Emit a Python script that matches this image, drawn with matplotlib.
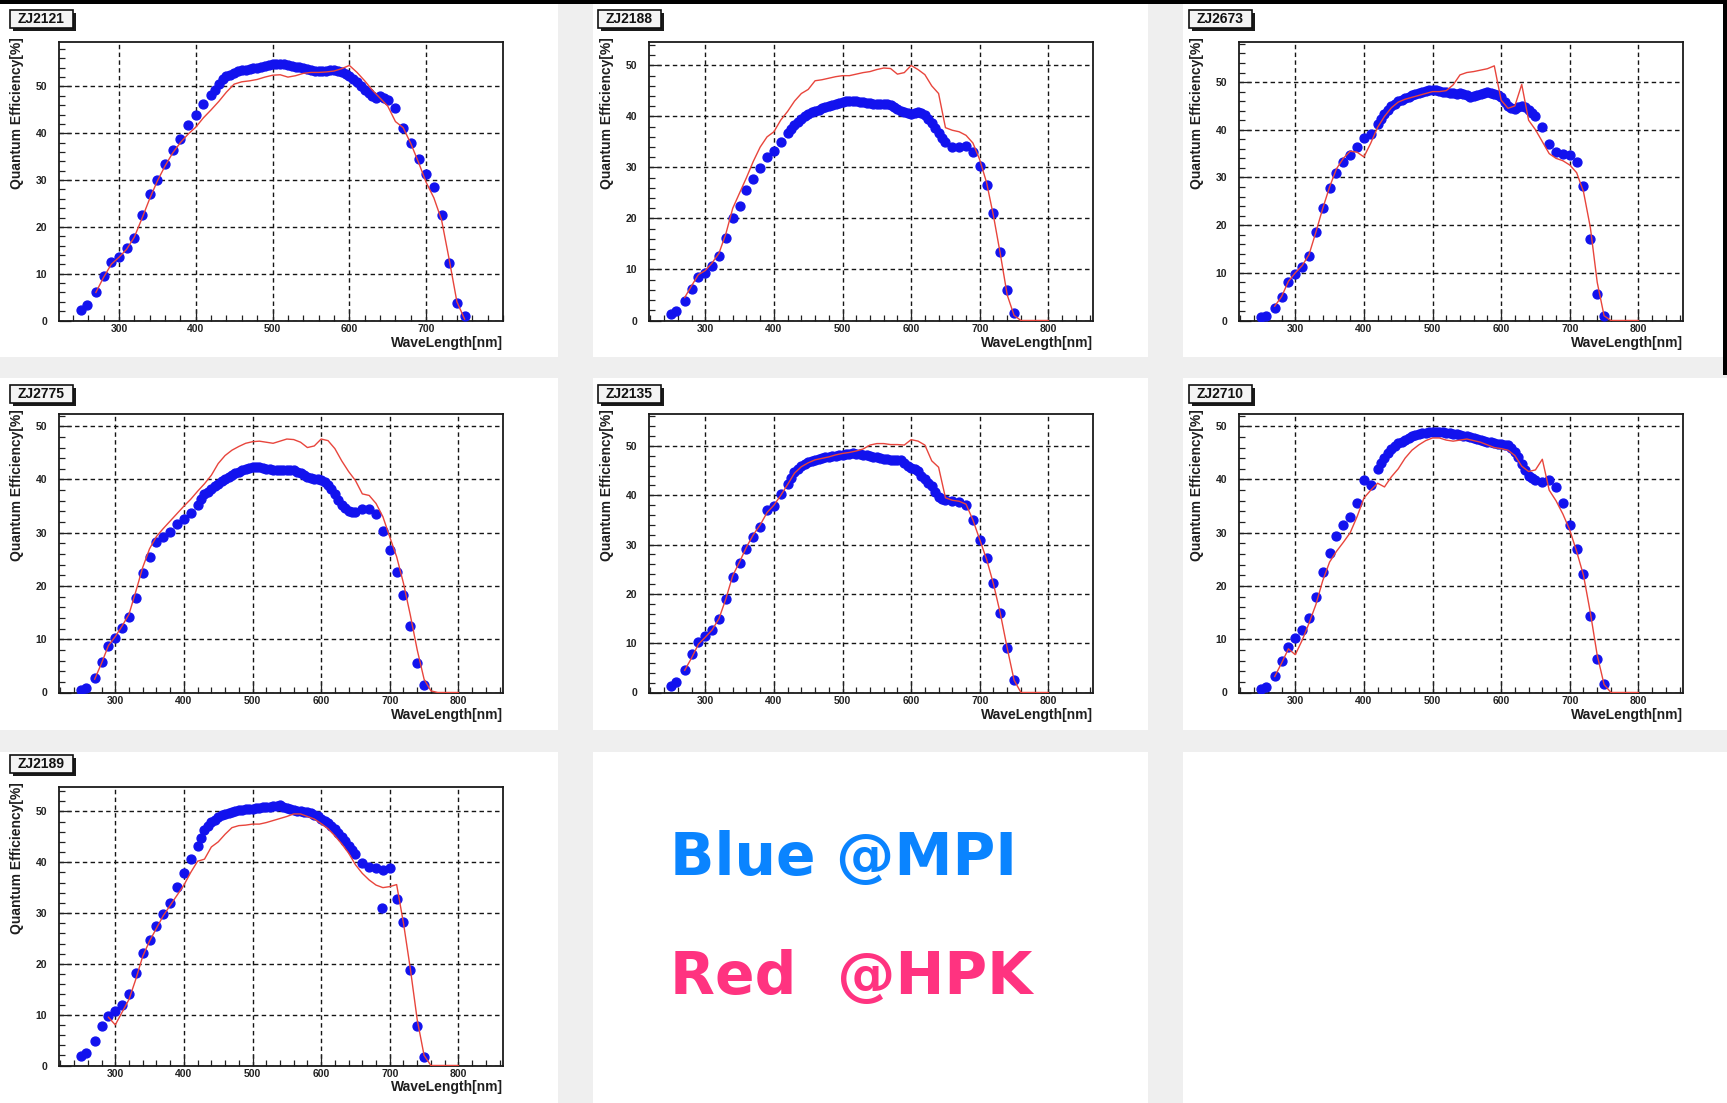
import numpy as np
import matplotlib
matplotlib.use("Agg")
import matplotlib.pyplot as plt
from matplotlib.patches import Rectangle
from matplotlib.ticker import MultipleLocator, FixedLocator

# ---------------------------------------------------------------- data
# MPI scan wavelengths [nm]: coarse in the UV / red, 5 nm across the plateau
WL_MPI = [250, 258, 270, 280, 290, 300, 310, 320, 330, 340, 350, 360, 370, 380, 390, 400, 410, 420,
          425, 430, 435, 440, 445, 450, 455, 460, 465, 470,
          475, 480, 485, 490, 495, 500, 505, 510, 515, 520,
          525, 530, 535, 540, 545, 550, 555, 560, 565, 570,
          575, 580, 585, 590, 595, 600, 605, 610, 615, 620,
          625, 630, 635, 640, 645, 650,
          660, 670, 680, 690, 700, 710, 720, 730, 740, 750]

# HPK data sheet wavelengths [nm]
WL_HPK = [270, 280, 290, 300, 310, 320, 330, 340, 350, 360,
          370, 380, 390, 400, 410, 420, 430, 440, 450, 460,
          470, 480, 490, 500, 510, 520, 530, 540, 550, 560,
          570, 580, 590, 600, 610, 620, 630, 640, 650, 660,
          670, 680, 690, 700, 710, 720, 730, 740, 750, 760,
          770, 780, 790, 800]

nan = np.nan

MPI_ZJ2121 = [2.3, 3.3, 6.0, 9.6, 12.5, 13.6, 15.4, 17.7, 22.6, 27.0, 30.0, 33.5, 36.5, 38.7, 41.8, 43.8, 46.2, 48.2,
              49.3, 50.5, 51.5, 52.2, 52.5, 52.8, 53.2, 53.5, 53.6, 53.8,
              53.9, 54.0, 54.1, 54.3, 54.6, 54.8, 54.9, 54.8, 54.7, 54.6,
              54.4, 54.2, 54.1, 54.0, 53.7, 53.5, 53.3, 53.2, 53.2, 53.3,
              53.5, 53.6, 53.3, 53.0, 52.6, 52.2, 51.5, 50.9, 50.2, 49.3,
              48.5, 47.9, 47.6, 47.9, 47.6, 47.2,
              45.4, 41.2, 38.0, 34.5, 31.3, 28.5, 22.5, 12.2, 3.7, 0.9]
HPK_ZJ2121 = [6.0, 9.2, 12.0, 13.5, 15.2, 17.8, 21.8, 26.0, 29.8, 33.0,
              35.8, 38.0, 39.8, 41.3, 43.3, 45.0, 46.8, 48.8, 50.5, 51.0,
              51.2, 51.5, 52.0, 52.4, 52.5, 52.0, 52.3, 52.8, 53.0, 53.0,
              53.1, 53.3, 53.8, 54.5, 53.0, 51.2, 49.2, 47.5, 45.8, 42.5,
              41.2, 37.8, 33.8, 29.5, 26.2, 21.5, 13.0, 4.0, 0.3, nan,
              nan, nan, nan, nan]

MPI_ZJ2188 = [1.3, 1.8, 3.8, 6.2, 8.6, 9.3, 10.6, 12.7, 16.2, 20.0, 22.5, 25.5, 27.8, 29.8, 32.0, 33.3, 35.0, 36.8,
              37.6, 38.4, 39.0, 39.6, 40.0, 40.4, 40.8, 41.1, 41.3, 41.6,
              41.8, 42.0, 42.2, 42.5, 42.7, 42.9, 43.0, 43.1, 43.0, 43.0,
              42.9, 42.8, 42.7, 42.6, 42.5, 42.5, 42.5, 42.5, 42.4, 42.3,
              41.9, 41.5, 41.0, 40.8, 40.6, 40.5, 40.7, 40.8, 40.6, 40.3,
              39.5, 38.8, 37.8, 36.8, 35.8, 35.0,
              34.0, 34.0, 34.2, 33.0, 30.2, 26.5, 21.0, 13.5, 6.0, 1.5]
HPK_ZJ2188 = [4.5, 6.8, 9.0, 9.8, 11.3, 13.2, 17.0, 22.0, 25.0, 28.0,
              31.2, 34.0, 36.0, 37.0, 39.3, 41.0, 43.0, 44.5, 45.3, 47.0,
              47.2, 47.5, 47.8, 48.0, 48.0, 48.3, 48.6, 48.8, 49.2, 49.5,
              49.4, 48.3, 48.6, 50.0, 49.2, 48.2, 46.0, 44.5, 37.8, 37.3,
              37.0, 36.3, 34.8, 31.5, 27.0, 20.5, 13.0, 5.0, 1.0, 0.0,
              0.0, 0.0, 0.0, 0.0]

MPI_ZJ2673 = [0.8, 1.0, 2.7, 5.0, 8.0, 9.8, 11.3, 13.5, 18.5, 23.5, 27.8, 31.0, 33.3, 34.6, 36.4, 38.3, 39.2, 41.2,
              42.3, 43.3, 44.1, 44.9, 45.5, 46.0, 46.3, 46.6, 46.9, 47.2,
              47.5, 47.8, 48.0, 48.2, 48.3, 48.4, 48.3, 48.2, 48.0, 47.9,
              47.8, 47.7, 47.6, 47.8, 47.5, 47.2, 46.9, 47.0, 47.3, 47.6,
              47.8, 47.9, 47.7, 47.5, 47.3, 46.9, 45.8, 45.0, 44.6, 44.4,
              44.7, 44.9, 44.7, 44.2, 43.6, 42.8,
              40.6, 37.1, 35.3, 35.0, 34.6, 33.2, 28.3, 17.0, 5.5, 1.0]
HPK_ZJ2673 = [3.0, 5.0, 8.2, 10.0, 11.5, 13.8, 18.5, 23.5, 28.0, 31.8,
              34.0, 35.5, 35.3, 34.3, 37.2, 40.5, 42.8, 44.6, 45.8, 46.4,
              46.8, 47.2, 47.6, 48.0, 48.0, 48.2, 49.4, 51.5, 52.0, 52.2,
              52.5, 52.8, 53.4, 46.2, 44.5, 45.0, 49.5, 42.0, 40.0, 37.5,
              35.0, 34.0, 33.5, 32.6, 31.0, 27.0, 19.5, 8.0, 1.0, 0.0,
              0.0, 0.0, 0.0, 0.0]

MPI_ZJ2775 = [0.5, 0.8, 2.7, 5.8, 8.7, 10.2, 12.1, 14.1, 17.8, 22.4, 25.4, 28.3, 29.2, 30.1, 31.6, 32.6, 33.7, 35.3,
              36.4, 37.2, 37.7, 38.3, 38.8, 39.2, 39.7, 40.1, 40.5, 40.9,
              41.2, 41.5, 41.8, 42.0, 42.2, 42.4, 42.4, 42.3, 42.1, 42.0,
              41.9, 41.8, 41.8, 41.8, 41.8, 41.8, 41.8, 41.7, 41.5, 41.2,
              40.8, 40.5, 40.3, 40.1, 40.0, 39.9, 39.6, 39.0, 38.2, 37.2,
              36.2, 35.2, 34.6, 34.1, 33.9, 33.9,
              34.4, 34.4, 33.6, 30.3, 26.8, 22.7, 18.3, 12.4, 5.5, 1.4]
HPK_ZJ2775 = [2.5, 5.5, 8.8, 10.5, 12.5, 14.7, 19.0, 23.5, 27.0, 29.3,
              30.8, 32.2, 33.6, 35.0, 36.3, 37.8, 39.2, 40.8, 43.0, 44.5,
              45.5, 46.2, 46.8, 47.1, 47.2, 47.0, 46.8, 47.2, 47.6, 47.5,
              47.0, 46.0, 46.3, 47.6, 47.3, 45.8, 43.5, 41.5, 39.8, 37.3,
              37.0, 35.5, 33.0, 29.2, 25.5, 20.5, 14.5, 8.0, 2.5, 0.3,
              0.0, 0.0, 0.0, 0.0]

MPI_ZJ2135 = [1.4, 2.2, 4.6, 7.8, 10.3, 11.4, 12.7, 15.0, 19.0, 23.4, 26.2, 29.2, 31.6, 33.6, 37.0, 37.8, 40.2, 42.4,
              43.6, 44.8, 45.4, 46.0, 46.4, 46.8, 47.0, 47.2, 47.4, 47.6,
              47.7, 47.8, 47.9, 48.0, 48.1, 48.2, 48.3, 48.4, 48.5, 48.4,
              48.3, 48.2, 48.1, 47.9, 47.8, 47.7, 47.5, 47.4, 47.3, 47.2,
              47.2, 47.2, 47.1, 46.5, 46.0, 45.6, 45.3, 45.0, 44.0, 43.3,
              42.6, 41.8, 40.6, 39.6, 39.2, 39.1,
              38.8, 38.7, 38.1, 35.0, 31.0, 27.2, 22.2, 16.1, 9.0, 2.6]
HPK_ZJ2135 = [4.5, 7.0, 9.8, 11.2, 12.7, 15.0, 19.0, 23.7, 26.5, 29.5,
              32.0, 34.0, 36.5, 38.0, 40.0, 42.2, 44.5, 45.8, 46.6, 47.2,
              47.5, 47.8, 48.2, 48.5, 48.7, 49.0, 49.4, 50.2, 50.5, 50.5,
              50.3, 50.3, 50.2, 51.3, 51.0, 50.2, 47.0, 45.7, 39.5, 39.0,
              38.8, 38.2, 35.0, 31.0, 27.0, 22.0, 16.0, 9.0, 2.5, 0.0,
              0.0, 0.0, 0.0, 0.0]

MPI_ZJ2710 = [0.6, 1.1, 3.1, 5.9, 8.6, 10.2, 11.8, 13.9, 18.0, 22.7, 26.2, 29.4, 31.4, 33.0, 35.5, 39.9, 38.9, 42.0,
              43.1, 44.1, 45.0, 45.8, 46.3, 46.8, 47.1, 47.5, 47.8, 48.1,
              48.3, 48.5, 48.7, 48.8, 48.9, 49.0, 49.0, 48.9, 48.9, 48.8,
              48.7, 48.6, 48.5, 48.4, 48.2, 48.1, 47.9, 47.8, 47.6, 47.4,
              47.3, 47.1, 47.0, 46.9, 46.7, 46.6, 46.5, 46.4, 45.9, 45.2,
              44.2, 43.0, 41.8, 40.6, 40.2, 39.9,
              39.6, 39.9, 38.6, 35.5, 31.4, 26.9, 22.3, 14.4, 6.3, 1.6]
HPK_ZJ2710 = [3.0, 5.5, 8.2, 7.1, 9.8, 13.0, 16.5, 21.0, 24.5, 26.5,
              28.2, 30.0, 33.0, 36.5, 38.0, 39.3, 38.6, 40.5, 42.0, 44.0,
              45.5, 46.5, 47.3, 47.8, 47.8, 47.4, 47.2, 47.4, 47.6, 47.3,
              47.0, 46.5, 46.0, 45.8, 45.5, 44.5, 42.5, 41.5, 41.8, 43.8,
              38.0, 36.0, 33.5, 30.5, 26.5, 22.0, 15.0, 7.0, 1.5, 0.0,
              0.0, 0.0, 0.0, 0.0]

MPI_ZJ2189 = [1.8, 2.5, 4.8, 7.7, 9.7, 10.7, 12.0, 14.1, 18.2, 22.1, 24.7, 27.5, 29.9, 32.0, 35.2, 37.8, 40.7, 43.1,
              44.8, 46.3, 47.2, 47.9, 48.4, 48.8, 49.2, 49.5, 49.7, 49.9,
              50.0, 50.2, 50.3, 50.4, 50.5, 50.5, 50.6, 50.7, 50.8, 50.8,
              50.9, 51.0, 51.1, 51.2, 50.9, 50.6, 50.4, 50.2, 50.1, 50.0,
              49.9, 49.9, 49.6, 49.3, 49.0, 48.6, 48.2, 47.7, 47.2, 46.6,
              45.8, 45.0, 44.1, 43.2, 42.4, 41.6,
              39.9, 39.1, 38.8, 38.4, 38.8, 32.7, 28.3, 18.8, 7.7, 1.7]
HPK_ZJ2189 = [nan, nan, 9.5, 8.0, 10.5, 13.0, 17.0, 21.5, 24.5, 27.0,
              29.5, 31.5, 33.5, 35.5, 38.0, 40.2, 40.6, 43.0, 44.0, 45.5,
              46.8, 47.2, 47.3, 47.5, 47.5, 47.8, 48.2, 48.6, 49.0, 49.5,
              49.5, 49.0, 48.5, 47.6, 46.6, 45.2, 43.6, 41.8, 39.5, 37.8,
              36.5, 35.5, 35.0, 35.2, 35.6, 28.0, 19.0, 9.0, 2.0, 0.0,
              0.0, 0.0, 0.0, 0.0]
# one repeated MPI reading for ZJ2189 near 688 nm
EXTRA_WL_ZJ2189 = [688]
EXTRA_QE_ZJ2189 = [30.9]

TUBES = ["ZJ2121", "ZJ2188", "ZJ2673", "ZJ2775", "ZJ2135", "ZJ2710", "ZJ2189"]
MPI = [MPI_ZJ2121, MPI_ZJ2188, MPI_ZJ2673, MPI_ZJ2775, MPI_ZJ2135, MPI_ZJ2710, MPI_ZJ2189]
HPK = [HPK_ZJ2121, HPK_ZJ2188, HPK_ZJ2673, HPK_ZJ2775, HPK_ZJ2135, HPK_ZJ2710, HPK_ZJ2189]
YMAX = [59.5, 54.6, 58.4, 52.3, 56.5, 52.3, 54.8]
XRANGE = [(222, 800), (218, 865), (218, 865), (218, 865), (218, 865), (218, 865), (218, 865)]
XLABEL_TICKS = [[300, 400, 500, 600, 700]] + [[300, 400, 500, 600, 700, 800]] * 6

# ---------------------------------------------------------------- layout (pixels)
W, H = 1727, 1103
PANEL_X = [(0, 558), (593, 1148), (1183, 1723)]
PANEL_Y = [(4, 357), (378, 730), (752, 1103)]
AX_LEFT = [59, 649, 1239]
AX_TOP = [42, 414, 787]
AX_W, AX_H = 444, 278.5
TAG_LEFT = [10, 598, 1189]
TAG_TOP = [10, 385, 755]
TAG_W, TAG_H = 63, 18

plt.rcParams["font.family"] = ["Liberation Sans", "DejaVu Sans"]

fig = plt.figure(figsize=(W / 100, H / 100), dpi=100)
fig.patch.set_facecolor("#efefef")


def px_rect(x0, y0, x1, y1, **kw):
    fig.add_artist(Rectangle((x0 / W, 1 - y1 / H), (x1 - x0) / W, (y1 - y0) / H,
                             transform=fig.transFigure, **kw))


# slide frame
px_rect(0, 0, W, 4, facecolor="black", edgecolor="none", zorder=5)
px_rect(1723, 0, W, 375, facecolor="black", edgecolor="none", zorder=5)

# white panel tiles
for r in range(3):
    for c in range(3):
        x0, x1 = PANEL_X[c]
        if c == 2 and r > 0:
            x1 = W
        y0, y1 = PANEL_Y[r]
        px_rect(x0, y0, x1, y1, facecolor="white", edgecolor="none", zorder=0)

BLUE = "#1212ee"
RED = "#e8453c"
GRID_DASH = (0, (3.2, 2.4))

for i, name in enumerate(TUBES):
    r, c = divmod(i, 3)
    left, top = AX_LEFT[c], AX_TOP[r]
    ax = fig.add_axes([left / W, 1 - (top + AX_H) / H, AX_W / W, AX_H / H])
    ax.set_facecolor("white")
    ax.set_axisbelow(True)

    ax.plot(WL_MPI, MPI[i], linestyle="none", marker="o", ms=6.4,
            color=BLUE, mec=BLUE, zorder=3)
    if name == "ZJ2189":
        ax.plot(EXTRA_WL_ZJ2189, EXTRA_QE_ZJ2189, linestyle="none", marker="o",
                ms=6.4, color=BLUE, mec=BLUE, zorder=3)
    ax.plot(WL_HPK, HPK[i], color=RED, lw=1.0, zorder=4)

    ax.set_xlim(*XRANGE[i])
    ax.set_ylim(0, YMAX[i])

    ax.xaxis.set_major_locator(FixedLocator(XLABEL_TICKS[i]))
    ax.xaxis.set_minor_locator(MultipleLocator(20))
    ax.yaxis.set_major_locator(FixedLocator([0, 10, 20, 30, 40, 50]))
    ax.yaxis.set_minor_locator(MultipleLocator(2))

    ax.grid(True, which="major", color="#151515", linestyle=GRID_DASH, linewidth=1.0)
    ax.tick_params(which="both", direction="in", top=False, right=False,
                   color="#222222", width=0.9)
    ax.tick_params(which="major", length=8.5)
    ax.tick_params(which="minor", length=4.2)
    ax.tick_params(axis="x", which="major", labelsize=7.5, pad=2.5, labelcolor="#222222")
    ax.tick_params(axis="y", which="major", labelsize=7.5, pad=8.5, labelcolor="#222222")
    for lbl in ax.get_xticklabels() + ax.get_yticklabels():
        lbl.set_fontweight("bold")
    for sp in ax.spines.values():
        sp.set_color("#1a1a1a")
        sp.set_linewidth(1.3)

    ax.text(1.0, -22 / AX_H, "WaveLength[nm]", transform=ax.transAxes,
            ha="right", va="center", fontsize=10, fontweight="bold", color="#1e1e1e")
    ax.text(-42 / AX_W, 1 + 5 / AX_H, "Quantum Efficiency[%]", transform=ax.transAxes,
            rotation=90, ha="center", va="top", fontsize=10, fontweight="bold",
            color="#1e1e1e")

    # tube tag with drop shadow
    tx, ty = TAG_LEFT[c], TAG_TOP[r]
    px_rect(tx + 3, ty + 3, tx + TAG_W + 3, ty + TAG_H + 3,
            facecolor="#1a1a1a", edgecolor="none", zorder=6)
    px_rect(tx, ty, tx + TAG_W, ty + TAG_H, facecolor="#f4f4f4",
            edgecolor="#111111", linewidth=1.2, zorder=7)
    fig.text((tx + TAG_W / 2) / W, 1 - (ty + TAG_H / 2) / H, name,
             ha="center", va="center", fontsize=10, fontweight="bold",
             color="#111111", zorder=8)

# legend text
fig.text(670 / W, 1 - 875 / H, "Blue @MPI", ha="left", va="baseline",
         fontsize=42, fontweight="bold", family="DejaVu Sans", color="#0a84ff")
fig.text(670 / W, 1 - 994 / H, "Red  @HPK", ha="left", va="baseline",
         fontsize=42, fontweight="bold", family="DejaVu Sans", color="#ff3380")

fig.savefig("out.png", dpi=100, facecolor=fig.get_facecolor())
